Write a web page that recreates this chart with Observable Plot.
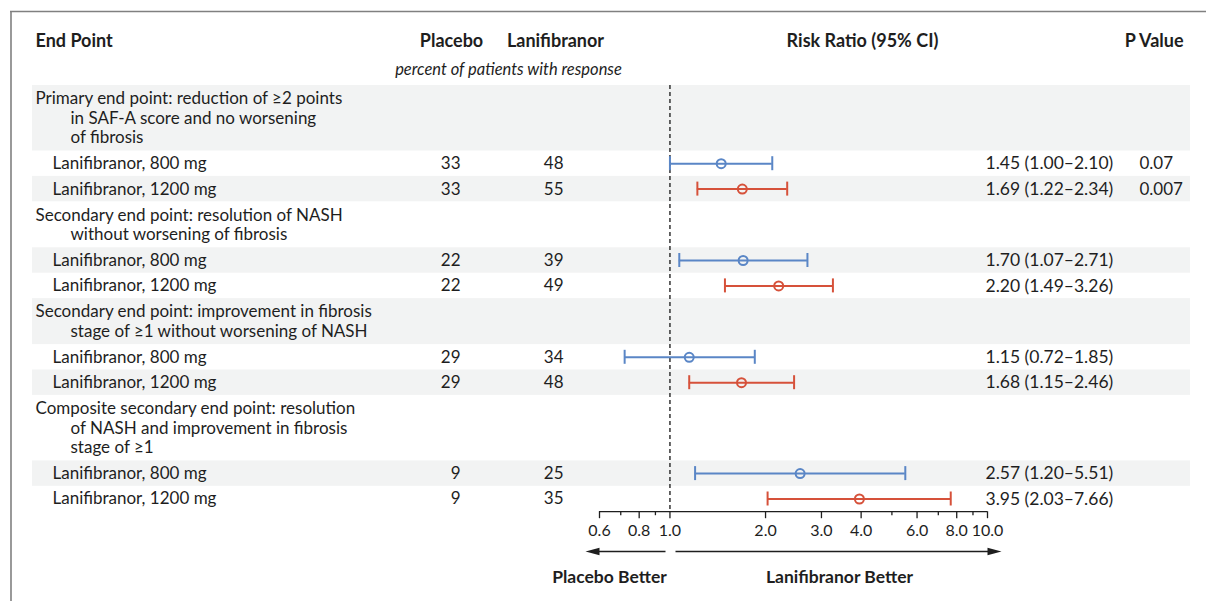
<!DOCTYPE html>
<html>
<head>
<meta charset="utf-8">
<script src="https://cdn.jsdelivr.net/npm/d3@7"></script>
<script src="https://cdn.jsdelivr.net/npm/@observablehq/plot@0.6"></script>
<style>
  html, body { margin: 0; padding: 0; background: #fff; }
  #chart { position: relative; width: 1206px; height: 601px; overflow: hidden; }
  #chart svg { position: absolute; left: 0; top: 0; }
</style>
</head>
<body>
<div id="chart"></div>
<script>
// ---------- DATA ----------
const groupLines = [
  ["Primary end point: reduction of \u22652 points", "in SAF-A score and no worsening", "of fibrosis"],
  ["Secondary end point: resolution of NASH", "without worsening of fibrosis"],
  ["Secondary end point: improvement in fibrosis", "stage of \u22651 without worsening of NASH"],
  ["Composite secondary end point: resolution", "of NASH and improvement in fibrosis", "stage of \u22651"]
];
const doses = ["Lanifibranor, 800 mg", "Lanifibranor, 1200 mg"];
const placebo = [33, 33, 22, 22, 29, 29, 9, 9];
const lanifibranor = [48, 55, 39, 49, 34, 48, 25, 35];
const rr = [1.45, 1.69, 1.70, 2.20, 1.15, 1.68, 2.57, 3.95];
const lo = [1.00, 1.22, 1.07, 1.49, 0.72, 1.15, 1.20, 2.03];
const hi = [2.10, 2.34, 2.71, 3.26, 1.85, 2.46, 5.51, 7.66];
const pValues = ["0.07", "0.007", "", "", "", "", "", ""];
const majorTicks = [0.6, 0.8, 1.0, 2.0, 3.0, 4.0, 6.0, 8.0, 10.0];
const minorTicks = [0.7, 0.9, 5.0, 7.0, 9.0];
const doseColors = ["#5a86c6", "#d6513a"];

// ---------- LAYOUT ----------
const font = "Lato";
const fs = 17;
const ink = "#1e1e1e";
const L = {bandTop: 85, lineH: 19.5, pad: 7, rowH: 25.4,
  bandX1: 32, bandX2: 1190, headX: 35, indentX: 70, labelX: 52,
  placeboX: 460, lanifX: 563, rrX: 985, pX: 1139,
  head1Y: 41, head2Y: 69};

const bands = [], headerLines = [], rows = [];
let yCur = L.bandTop;
groupLines.forEach((lines, g) => {
  const h = lines.length * L.lineH + L.pad;
  bands.push({y1: yCur, y2: yCur + h, shade: bands.length % 2 === 0});
  lines.forEach((t, i) => headerLines.push({text: t, y: yCur + L.pad / 2 + L.lineH * (i + 0.5), indent: i > 0}));
  yCur += h;
  doses.forEach((dose, k) => {
    const i = g * 2 + k;
    bands.push({y1: yCur, y2: yCur + L.rowH, shade: bands.length % 2 === 0});
    rows.push({
      label: dose, dose: k, y: yCur + L.rowH / 2,
      placebo: placebo[i], lanif: lanifibranor[i],
      rr: rr[i], lo: lo[i], hi: hi[i], p: pValues[i],
      rrText: `${rr[i].toFixed(2)} (${lo[i].toFixed(2)}\u2013${hi[i].toFixed(2)})`
    });
    yCur += L.rowH;
  });
});
const axisY = yCur;

const headStart = [{text: "End Point", x: L.headX}];
const headMid = [
  {text: "Placebo", x: 451},
  {text: "Lanifibranor", x: 555},
  {text: "Risk Ratio (95% CI)", x: 862}
];
const headEnd = [{text: "P Value", x: 1183}];

const arrowY = 551;
const arrows = [{x1: 665, x2: 585, dir: -1}, {x1: 675, x2: 1001, dir: 1}];
const favor = [{text: "Placebo Better", x: 609}, {text: "Lanifibranor Better", x: 839}];
const arrowHead = {
  draw(ctx) { ctx.moveTo(0, 0); ctx.lineTo(-14, -3.8); ctx.lineTo(-14, 3.8); ctx.closePath(); }
};
const boldHead = {fontWeight: "bold", fontSize: 18, fill: ink};

// ---------- TABLE LAYER ----------
const table = Plot.plot({
  width: 1206, height: 601, margin: 0,
  x: {type: "identity", axis: null},
  y: {type: "identity", axis: null},
  style: {fontFamily: font, fontSize: fs + "px", color: ink, background: "transparent"},
  marks: [
    Plot.rect(bands.filter(d => d.shade), {x1: L.bandX1, x2: L.bandX2, y1: "y1", y2: "y2", fill: "#f2f3f3"}),
    Plot.ruleY([11], {x1: 10, x2: 1206, stroke: "#808080", strokeWidth: 1.6}),
    Plot.ruleX([10.5], {y1: 11, y2: 601, stroke: "#808080", strokeWidth: 1.6}),
    Plot.text(headStart, {x: "x", y: L.head1Y, text: "text", textAnchor: "start", ...boldHead}),
    Plot.text(headMid, {x: "x", y: L.head1Y, text: "text", textAnchor: "middle", ...boldHead}),
    Plot.text(headEnd, {x: "x", y: L.head1Y, text: "text", textAnchor: "end", ...boldHead}),
    Plot.text(["percent of patients with response"], {x: 508, y: L.head2Y, text: d => d, fontStyle: "italic", fontSize: 16.5, fill: ink}),
    Plot.text(headerLines, {x: d => d.indent ? L.indentX : L.headX, y: "y", text: "text", textAnchor: "start", fill: ink}),
    Plot.text(rows, {x: L.labelX, y: "y", text: "label", textAnchor: "start", fill: ink}),
    Plot.text(rows, {x: L.placeboX, y: "y", text: "placebo", textAnchor: "end", fill: ink}),
    Plot.text(rows, {x: L.lanifX, y: "y", text: "lanif", textAnchor: "end", fill: ink}),
    Plot.text(rows, {x: L.rrX, y: "y", text: "rrText", textAnchor: "start", fontSize: 17.5, fill: ink}),
    Plot.text(rows, {x: L.pX, y: "y", text: "p", textAnchor: "start", fontSize: 17, fill: ink}),
    Plot.link(arrows, {x1: "x1", x2: d => d.x2 - d.dir * 8, y1: arrowY, y2: arrowY, stroke: ink, strokeWidth: 1.5}),
    Plot.dot(arrows, {x: "x2", y: arrowY, symbol: arrowHead, fill: ink, stroke: null, rotate: d => d.dir > 0 ? 0 : 180}),
    Plot.text(favor, {x: "x", y: 577, text: "text", fontWeight: "bold", fontSize: 17.5, fill: ink})
  ]
});

// ---------- FOREST LAYER ----------
const forest = Plot.plot({
  width: 1206, height: 601, marginTop: 0, marginBottom: 601 - axisY, marginLeft: 0, marginRight: 0,
  x: {type: "log", domain: [0.6, 10], range: [599, 987], axis: null},
  y: {type: "identity", axis: null},
  style: {fontFamily: font, fontSize: fs + "px", color: ink, background: "transparent"},
  marks: [
    Plot.ruleX([1], {y1: L.bandTop, y2: axisY, stroke: "#333", strokeWidth: 1.5, strokeDasharray: "4,3"}),
    Plot.ruleY([axisY], {x1: majorTicks[0], x2: majorTicks[majorTicks.length - 1], stroke: ink, strokeWidth: 1.3}),
    Plot.ruleX(majorTicks, {x: d => d, y1: axisY, y2: axisY + 7, stroke: ink, strokeWidth: 1.3}),
    Plot.ruleX(minorTicks, {x: d => d, y1: axisY, y2: axisY + 4, stroke: ink, strokeWidth: 1.3}),
    Plot.text(majorTicks, {x: d => d, y: axisY + 19, text: d => d.toFixed(1), fontSize: 16, fill: ink}),
    Plot.ruleY(rows, {x1: "lo", x2: "hi", y: "y", stroke: d => doseColors[d.dose], strokeWidth: 2}),
    Plot.ruleX(rows, {x: "lo", y1: d => d.y - 7, y2: d => d.y + 7, stroke: d => doseColors[d.dose], strokeWidth: 2}),
    Plot.ruleX(rows, {x: "hi", y1: d => d.y - 7, y2: d => d.y + 7, stroke: d => doseColors[d.dose], strokeWidth: 2}),
    Plot.dot(rows, {x: "rr", y: "y", r: 4.5, stroke: d => doseColors[d.dose], strokeWidth: 2, fill: "none"})
  ]
});

const chart = document.getElementById("chart");
chart.appendChild(table);
chart.appendChild(forest);
</script>
</body>
</html>
